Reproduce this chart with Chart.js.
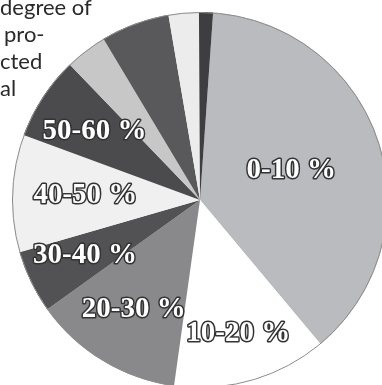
<!DOCTYPE html>
<html>
<head>
<meta charset="utf-8">
<script src="https://cdn.jsdelivr.net/npm/chart.js@4/dist/chart.umd.min.js"></script>
<style>
  html, body { margin: 0; padding: 0; background: #fff; overflow: hidden; }
  #wrap { position: relative; width: 382px; height: 385px; overflow: hidden; }
  #pie { position: absolute; left: 0; top: 0; }
  .txt {
    position: absolute;
    font-family: Lato, "Open Sans", sans-serif;
    font-size: 22px;
    color: #2a2a2a;
    line-height: 1;
    white-space: nowrap;
  }
</style>
</head>
<body>
<div id="wrap">
  <canvas id="pie" width="400" height="400"></canvas>
  <div class="txt" style="left:0px; top:-4px;">degree of</div>
  <div class="txt" style="left:4px; top:23px;">pro-</div>
  <div class="txt" style="left:0px; top:50px;">cted</div>
  <div class="txt" style="left:0px; top:77px;">al</div>
</div>
<script>
// share of each band (%)
const categories = ["0-10 %", "10-20 %", "20-30 %", "30-40 %", "40-50 %",
                    "50-60 %", "60-70 %", "70-80 %", "80-90 %", "90-100 %"];
const shares = [37.8, 13.3, 12.9, 5.4, 10.1, 7.2, 3.6, 5.9, 2.6, 1.2];

const fills = ["#babbbe", "#ffffff", "#89898b", "#525254", "#f0f0f0",
               "#4b4b4d", "#c7c7c8", "#59595b", "#ececec", "#3e3e40"];

// how far out (fraction of radius) each printed label sits; null = no label
const labelRadius = [0.51, 0.74, 0.68, 0.68, 0.61, 0.67, null, null, null, null];

const outlinePlugin = {
  id: "outline",
  afterDatasetsDraw(chart) {
    const arc = chart.getDatasetMeta(0).data[0];
    const { ctx } = chart;
    ctx.save();
    ctx.beginPath();
    ctx.arc(arc.x, arc.y, arc.outerRadius - 0.5, 0, Math.PI * 2);
    ctx.strokeStyle = "#8c8c8c";
    ctx.lineWidth = 1;
    ctx.stroke();
    ctx.restore();
  },
};

const sliceLabels = {
  id: "sliceLabels",
  afterDraw(chart) {
    const { ctx } = chart;
    const meta = chart.getDatasetMeta(0);
    ctx.save();
    ctx.font = "bold 29px 'Liberation Serif', 'DejaVu Serif', serif";
    ctx.textAlign = "center";
    ctx.textBaseline = "middle";
    ctx.lineJoin = "round";
    meta.data.forEach((arc, i) => {
      const f = labelRadius[i];
      if (f == null) return;
      const mid = (arc.startAngle + arc.endAngle) / 2;
      const x = arc.x + Math.cos(mid) * arc.outerRadius * f;
      const y = arc.y + Math.sin(mid) * arc.outerRadius * f;
      ctx.lineWidth = 3;
      ctx.strokeStyle = "#333";
      ctx.strokeText(categories[i], x, y);
      ctx.fillStyle = "#fff";
      ctx.fillText(categories[i], x, y);
    });
    ctx.restore();
  },
};

new Chart(document.getElementById("pie"), {
  type: "pie",
  data: {
    labels: categories,
    datasets: [{
      data: shares,
      backgroundColor: fills,
      borderWidth: 0,
    }],
  },
  options: {
    responsive: false,
    animation: false,
    rotation: 4,
    layout: { padding: 12 },
    plugins: {
      legend: { display: false },
      tooltip: { enabled: false },
    },
  },
  plugins: [outlinePlugin, sliceLabels],
});
</script>
</body>
</html>
